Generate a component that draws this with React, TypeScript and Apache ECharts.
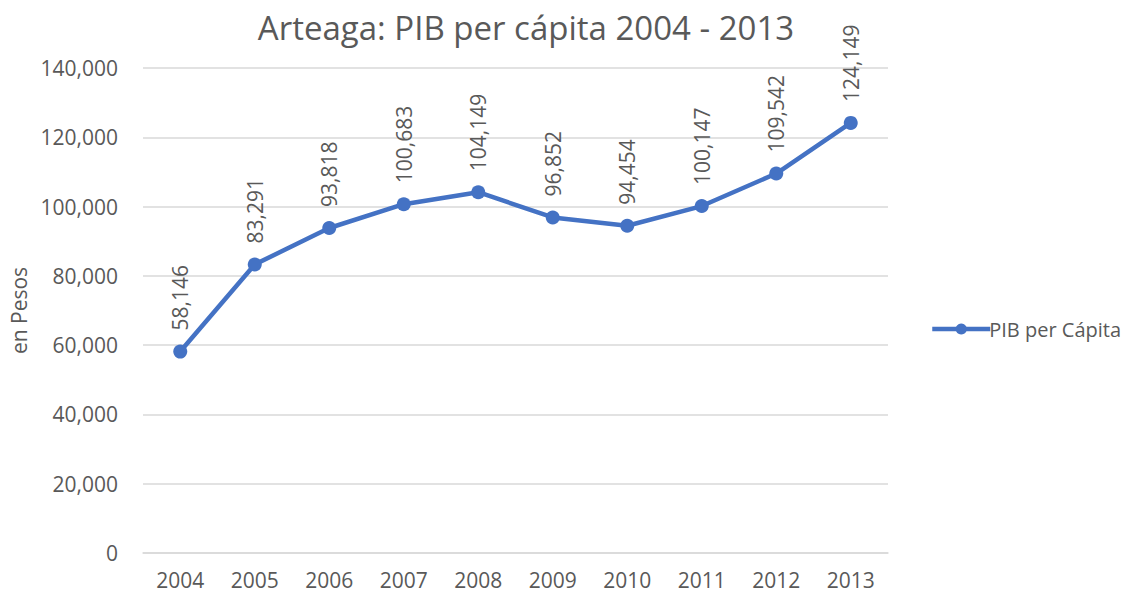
import React, { useEffect, useRef } from "react";
import * as echarts from "echarts";

const years = ["2004", "2005", "2006", "2007", "2008", "2009", "2010", "2011", "2012", "2013"];
const pibPerCapita = [58146, 83291, 93818, 100683, 104149, 96852, 94454, 100147, 109542, 124149];
const seriesName = "PIB per Cápita";
const titleText = "Arteaga: PIB per cápita 2004 - 2013";
const yAxisName = "en Pesos";

const FONT = "'Open Sans', 'Noto Sans', sans-serif";
const GRAY = "#595959";
const BLUE = "#4472C4";

export default function App() {
  const ref = useRef<HTMLDivElement>(null);
  useEffect(() => {
    if (!ref.current) return;
    const chart = echarts.init(ref.current, null, { renderer: "svg" });
    const fmt = (v: number) => v.toLocaleString("en-US");
    chart.setOption({
      animation: false,
      backgroundColor: "#ffffff",
      title: {
        text: titleText,
        left: 521,
        textAlign: "center",
        top: 6,
        textStyle: { fontFamily: FONT, fontSize: 33, fontWeight: "normal", color: GRAY },
      },
      legend: {
        data: [seriesName],
        orient: "vertical",
        left: 925,
        top: 314,
        itemWidth: 58,
        itemHeight: 14,
        itemGap: 4,
        lineStyle: { width: 4.5 },
        textStyle: { fontFamily: FONT, fontSize: 20, color: GRAY, padding: [0, 0, 0, -6] },
      },
      grid: { left: 143, right: 238, top: 68, bottom: 41, containLabel: false },
      xAxis: {
        type: "category",
        data: years,
        boundaryGap: true,
        axisLine: { show: true, lineStyle: { color: "#d9d9d9", width: 1.5 } },
        axisTick: { show: false },
        axisLabel: { fontFamily: FONT, fontSize: 21, color: GRAY, margin: 16 },
      },
      yAxis: {
        type: "value",
        min: 0,
        max: 140000,
        interval: 20000,
        name: yAxisName,
        nameLocation: "middle",
        nameGap: 112,
        nameRotate: 90,
        nameTextStyle: { fontFamily: FONT, fontSize: 21, color: GRAY },
        axisLine: { show: false },
        axisTick: { show: false },
        splitLine: { lineStyle: { color: "#d9d9d9", width: 1.5 } },
        axisLabel: { fontFamily: FONT, fontSize: 21, color: GRAY, margin: 25, formatter: (v: number) => fmt(v) },
      },
      series: [
        {
          name: seriesName,
          type: "line",
          data: pibPerCapita,
          symbol: "circle",
          symbolSize: 14,
          lineStyle: { color: BLUE, width: 4.5 },
          itemStyle: { color: BLUE },
          label: {
            show: true,
            position: "top",
            rotate: 90,
            align: "left",
            verticalAlign: "middle",
            distance: 14,
            fontFamily: FONT,
            fontSize: 21,
            color: GRAY,
            formatter: (p: any) => fmt(p.value),
          },
        },
      ],
    });
    return () => chart.dispose();
  }, []);
  return <div ref={ref} style={{ position: "fixed", left: 0, top: 0, width: 1126, height: 594 }} />;
}
